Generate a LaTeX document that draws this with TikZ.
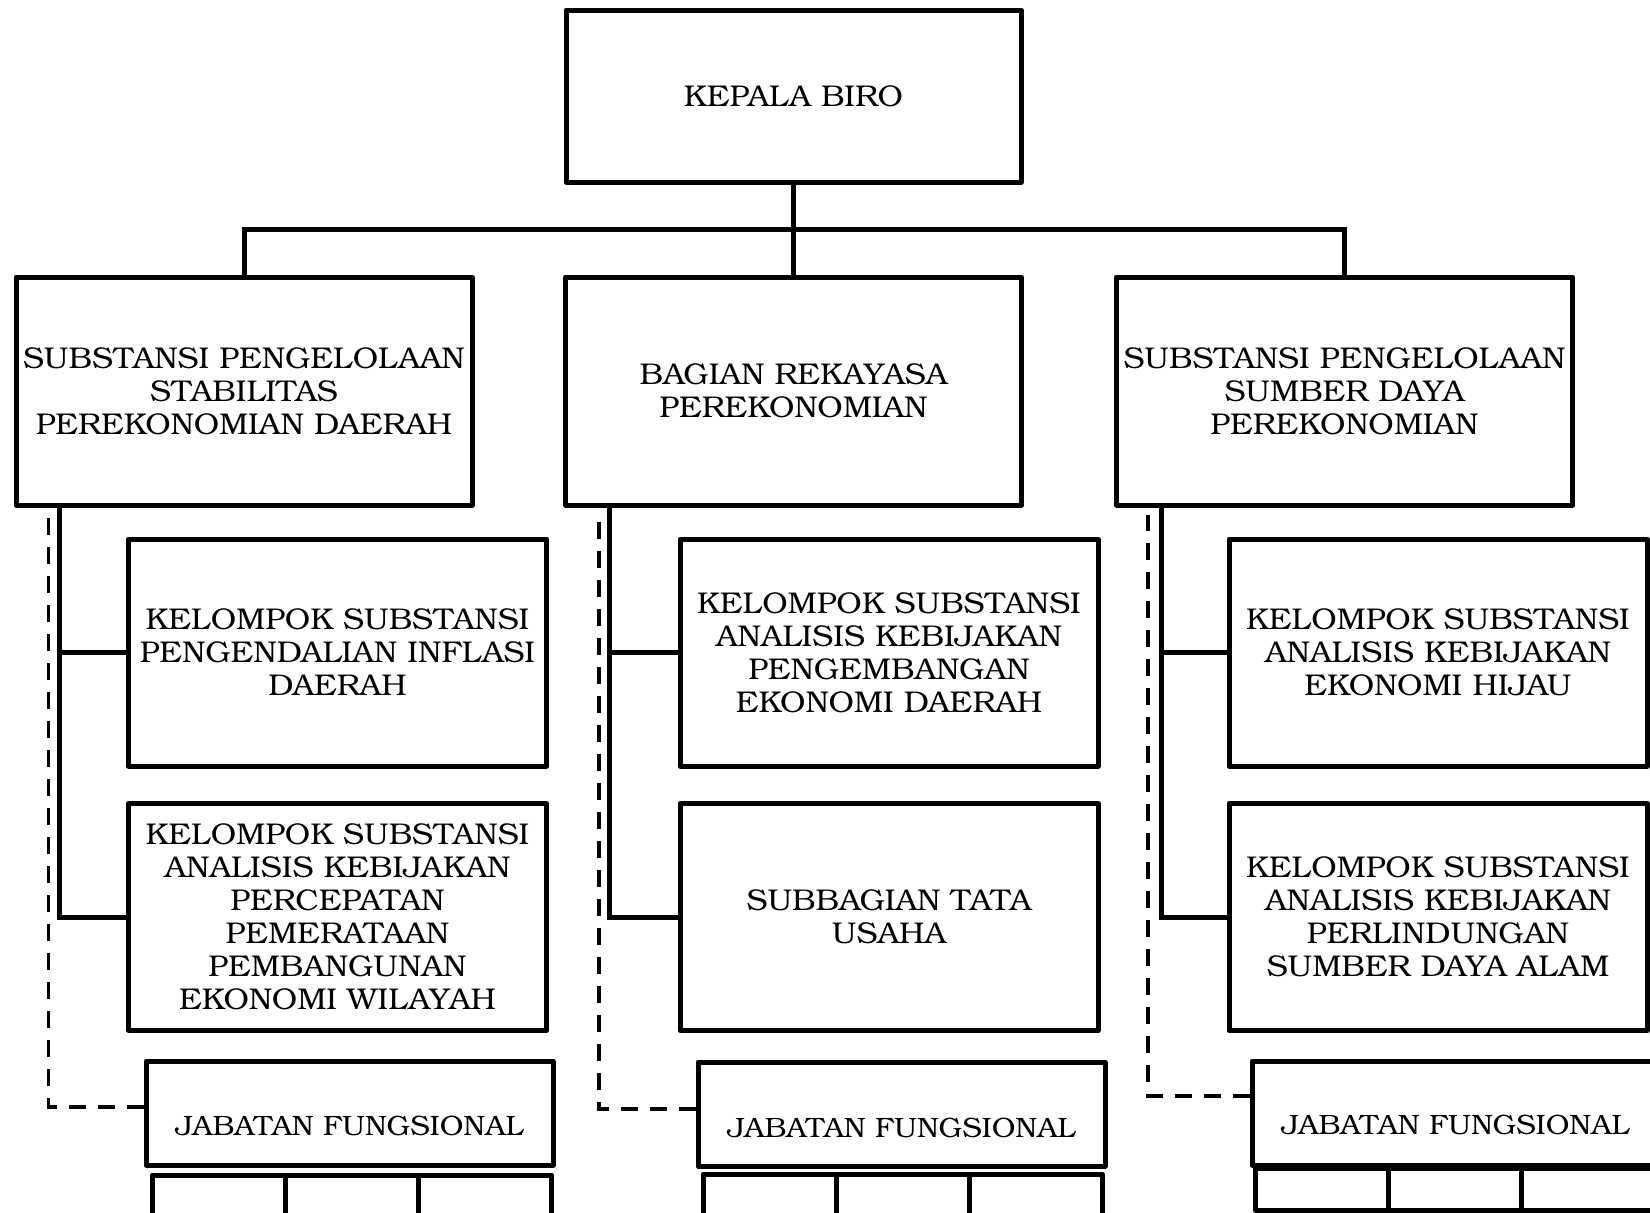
\documentclass[tikz,border=0pt]{standalone}
\usepackage{fontspec}
\setmainfont[FakeStretch=1.055]{TeX Gyre Bonum}
\usetikzlibrary{calc}
\begin{document}
\begin{tikzpicture}[x=1pt,y=-1pt,
  box/.style={draw, line width=5pt, line join=round, align=center, inner sep=0pt,
    font=\fontsize{30}{33}\selectfont},
  head/.style={box, minimum width=456pt, minimum height=228pt},
  unit/.style={box, minimum width=418pt, minimum height=227pt},
  jfbox/.style={box, minimum width=407pt, minimum height=104pt,
    font=\fontsize{28}{33}\selectfont},
  cell/.style={draw, line width=5pt, line join=round, minimum width=133pt,
    minimum height=42pt, inner sep=0pt},
  wire/.style={line width=5pt},
  dashwire/.style={line width=3.5pt, dash pattern=on 17pt off 12pt}
]
\useasboundingbox (0,0) rectangle (1650,1213);
\clip (0,0) rectangle (1650,1213);
\fill[white] (0,0) rectangle (1650,1213);

% top of the chart
\node[box, minimum width=455pt, minimum height=172pt] (top) at (793.5,96) {KEPALA BIRO};

% second level
\node[head] (L0) at (244,391) {SUBSTANSI PENGELOLAAN\\STABILITAS\\PEREKONOMIAN DAERAH};
\node[head] (M0) at (793.5,391) {BAGIAN REKAYASA\\PEREKONOMIAN};
\node[head] (R0) at (1344.5,391) {SUBSTANSI PENGELOLAAN\\SUMBER DAYA\\PEREKONOMIAN};

% working groups
\node[unit] (L1) at (337.5,652.5) {KELOMPOK SUBSTANSI\\PENGENDALIAN INFLASI\\DAERAH};
\node[unit] (L2) at (337.5,917) {KELOMPOK SUBSTANSI\\ANALISIS KEBIJAKAN\\PERCEPATAN\\PEMERATAAN\\PEMBANGUNAN\\EKONOMI WILAYAH};
\node[unit] (M1) at (889,652.5) {KELOMPOK SUBSTANSI\\ANALISIS KEBIJAKAN\\PENGEMBANGAN\\EKONOMI DAERAH};
\node[unit] (M2) at (889,917) {SUBBAGIAN TATA\\USAHA};
\node[unit] (R1) at (1438,652.5) {KELOMPOK SUBSTANSI\\ANALISIS KEBIJAKAN\\EKONOMI HIJAU};
\node[unit] (R2) at (1438,917) {KELOMPOK SUBSTANSI\\ANALISIS KEBIJAKAN\\PERLINDUNGAN\\SUMBER DAYA ALAM};

% functional positions: label sits below the box centre
\node[jfbox] (JFL) at (349.5,1113) {\raisebox{-22pt}[0pt][0pt]{JABATAN FUNGSIONAL}};
\node[jfbox] (JFM) at (901.5,1114) {\raisebox{-23pt}[0pt][0pt]{JABATAN FUNGSIONAL}};
\node[jfbox] (JFR) at (1455.5,1113) {\raisebox{-21pt}[0pt][0pt]{JABATAN FUNGSIONAL}};

% empty cells under each functional box
\node[cell] (cl1) at (219,1196) {};
\node[cell] (cl2) at (352,1196) {};
\node[cell] (cl3) at (485,1196) {};
\node[cell] (cm1) at (769.5,1195) {};
\node[cell] (cm2) at (902.5,1195) {};
\node[cell] (cm3) at (1035.5,1195) {};
\node[cell] (cr1) at (1322,1189) {};
\node[cell] (cr2) at (1455,1189) {};
\node[cell] (cr3) at (1588,1189) {};

% connectors from the top
\coordinate (bus) at (793.5,229);
\draw[wire] (top.south) -- (M0.north);
\draw[wire] (L0.north) |- (bus) -| (R0.north);

% solid trunks to the working groups
\coordinate (Lt) at ($(L0.south west)+(46,0)$);
\coordinate (Mt) at ($(M0.south west)+(46,0)$);
\coordinate (Rt) at ($(R0.south west)+(47,0)$);
\draw[wire] (Lt) |- (L2.west);
\draw[wire] (L1.west) -- (L1.west -| Lt);
\draw[wire] (Mt) |- (M2.west);
\draw[wire] (M1.west) -- (M1.west -| Mt);
\draw[wire] (Rt) |- (R2.west);
\draw[wire] (R1.west) -- (R1.west -| Rt);

% dashed lines to the functional positions (drawn from the box outwards)
\coordinate (Ld) at ($(L0.south west)+(35,7)$);
\coordinate (Md) at ($(M0.south west)+(36,7)$);
\coordinate (Rd) at ($(R0.south west)+(34,7)$);
\coordinate (Lj) at ($(JFL.west)+(0,-6)$);
\coordinate (Mj) at ($(JFM.west)+(0,-5)$);
\coordinate (Rj) at ($(JFR.west)+(0,-17)$);
\draw[dashwire] (Lj) -| (Ld);
\draw[dashwire] (Mj) -| (Md);
\draw[dashwire] (Rj) -| (Rd);
\end{tikzpicture}
\end{document}
